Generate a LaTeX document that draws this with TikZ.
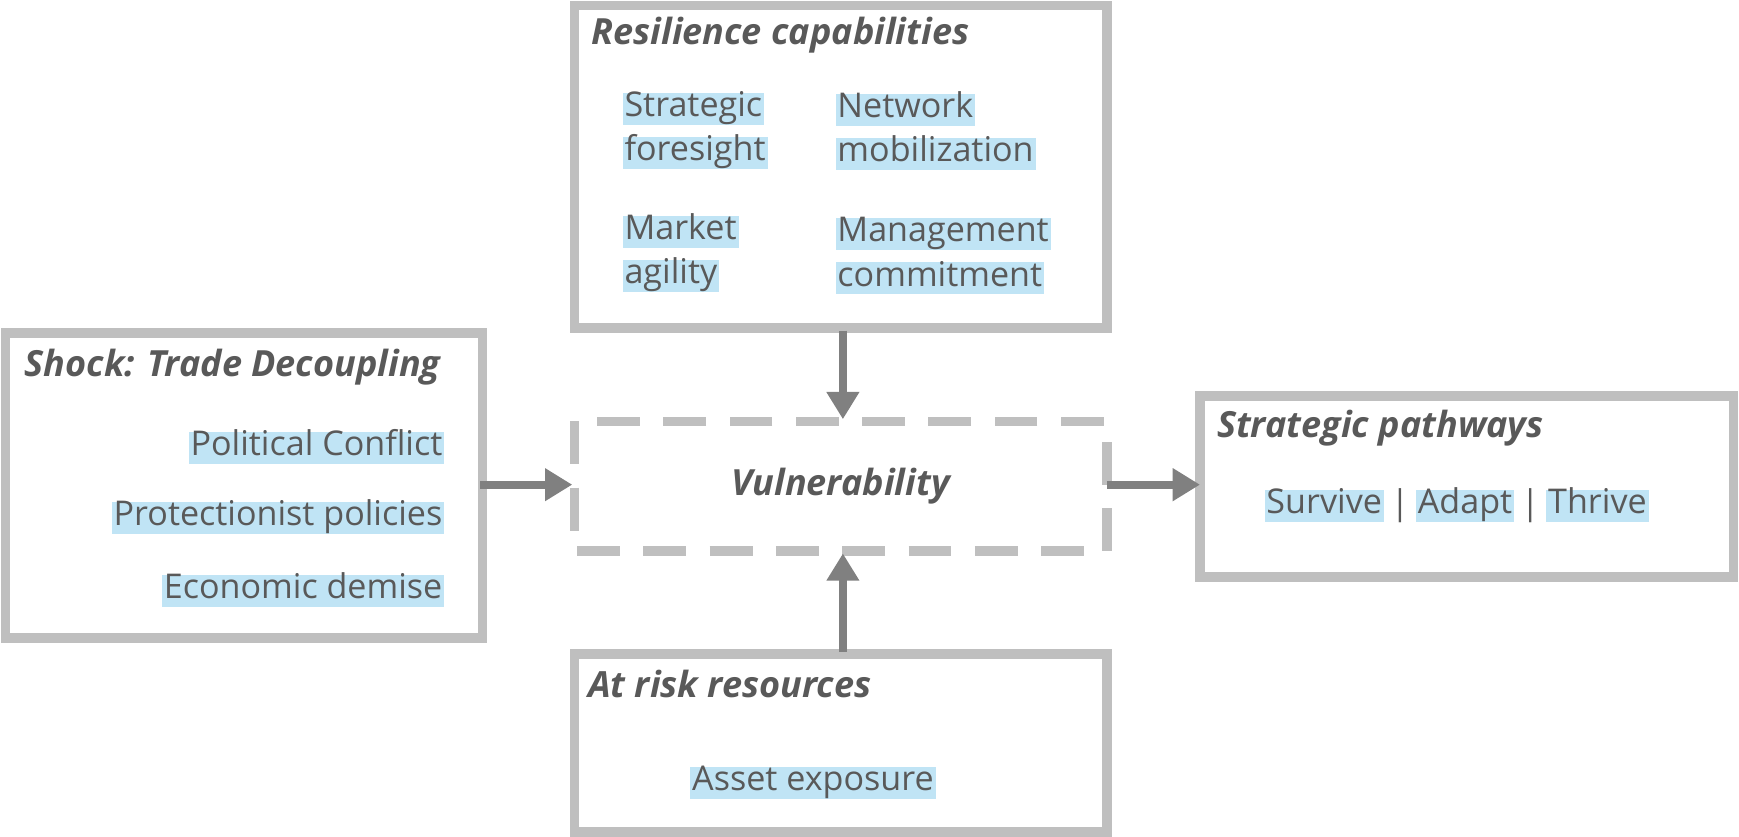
\documentclass[tikz,border=0pt]{standalone}
\usepackage{fontspec}
\setmainfont{Open Sans}
\usetikzlibrary{positioning,arrows.meta}
\definecolor{boxgray}{RGB}{191,191,191}
\definecolor{txtgray}{RGB}{89,89,89}
\definecolor{arrgray}{RGB}{128,128,128}
\definecolor{hlblue}{RGB}{192,228,245}
\tikzset{
  frame/.style={draw=boxgray,line width=5pt},
  ttl/.style={anchor=west,text=txtgray,font=\fontsize{18.5}{22}\selectfont\bfseries\itshape,inner sep=0pt},
  hl/.style={fill=hlblue,text=txtgray,font=\fontsize{17.5}{21}\selectfont,inner sep=1pt,
    text height=2.1ex,text depth=0.6ex},
  bar/.style={text=txtgray,font=\fontsize{17.5}{21}\selectfont,inner sep=0pt},
  link/.style={draw=arrgray,line width=4pt,-{Triangle[length=14pt,width=16pt]}}
}
\begin{document}
\begin{tikzpicture}[x=0.02cm,y=-0.02cm]
    \useasboundingbox (0,0) rectangle (1568,754);
    % boxes
    \draw [frame] (518,5) rectangle (998,296);
    \draw [frame] (5,300) rectangle (435,575);
    \draw [frame,dash pattern=on 22pt off 12pt] (518,380) rectangle (998,497);
    \draw [frame] (1082,357) rectangle (1563,520);
    \draw [frame] (518,590) rectangle (998,750);
    % titles
    \node [ttl] (rtitle) at (533,32) {Resilience capabilities};
    \node [ttl] (stitle) at (22,331) {Shock: Trade Decoupling};
    \node [ttl] (ptitle) at (1097,386) {Strategic pathways};
    \node [ttl] (atitle) at (530,617) {At risk resources};
    \node [ttl,anchor=center] (vuln) at (758,438) {Vulnerability};
    % capabilities
    \node [hl,anchor=west] (sf1) at (561,98) {Strategic};
    \node [hl,anchor=west] (sf2) at (561,138) {foresight};
    \node [hl,anchor=west] (nm1) at (753,99) {Network};
    \node [hl,anchor=west] (nm2) at (753,139) {mobilization};
    \node [hl,anchor=west] (ma1) at (561,209) {Market};
    \node [hl,anchor=west] (ma2) at (561,249) {agility};
    \node [hl,anchor=west] (mc1) at (753,211) {Management};
    \node [hl,anchor=west] (mc2) at (753,251) {commitment};
    % shock
    \node [hl,anchor=east] (pc) at (401,404) {Political Conflict};
    \node [hl,anchor=east] (pp) at (401,467) {Protectionist policies};
    \node [hl,anchor=east] (ed) at (401,533) {Economic demise};
    % pathways
    \node [hl] (adapt) at (1321,456) {Adapt};
    \node [bar,left=3pt of adapt] (bar1) {|};
    \node [hl,left=3pt of bar1] (surv) {Survive};
    \node [bar,right=3pt of adapt] (bar2) {|};
    \node [hl,right=3pt of bar2] (thrive) {Thrive};
    % resources
    \node [hl] (asset) at (733,706) {Asset exposure};
    % arrow anchors
    \coordinate (sout) at (433,437);
    \coordinate (vin) at (516,437);
    \coordinate (vout) at (998,437);
    \coordinate (pin) at (1082,437);
    \coordinate (rout) at (760,298);
    \coordinate (vtop) at (760,378);
    \coordinate (aout) at (760,588);
    \coordinate (vbot) at (760,499);
    \draw [link] (sout) to (vin);
    \draw [link] (vout) to (pin);
    \draw [link] (rout) to (vtop);
    \draw [link] (aout) to (vbot);
\end{tikzpicture}
\end{document}
